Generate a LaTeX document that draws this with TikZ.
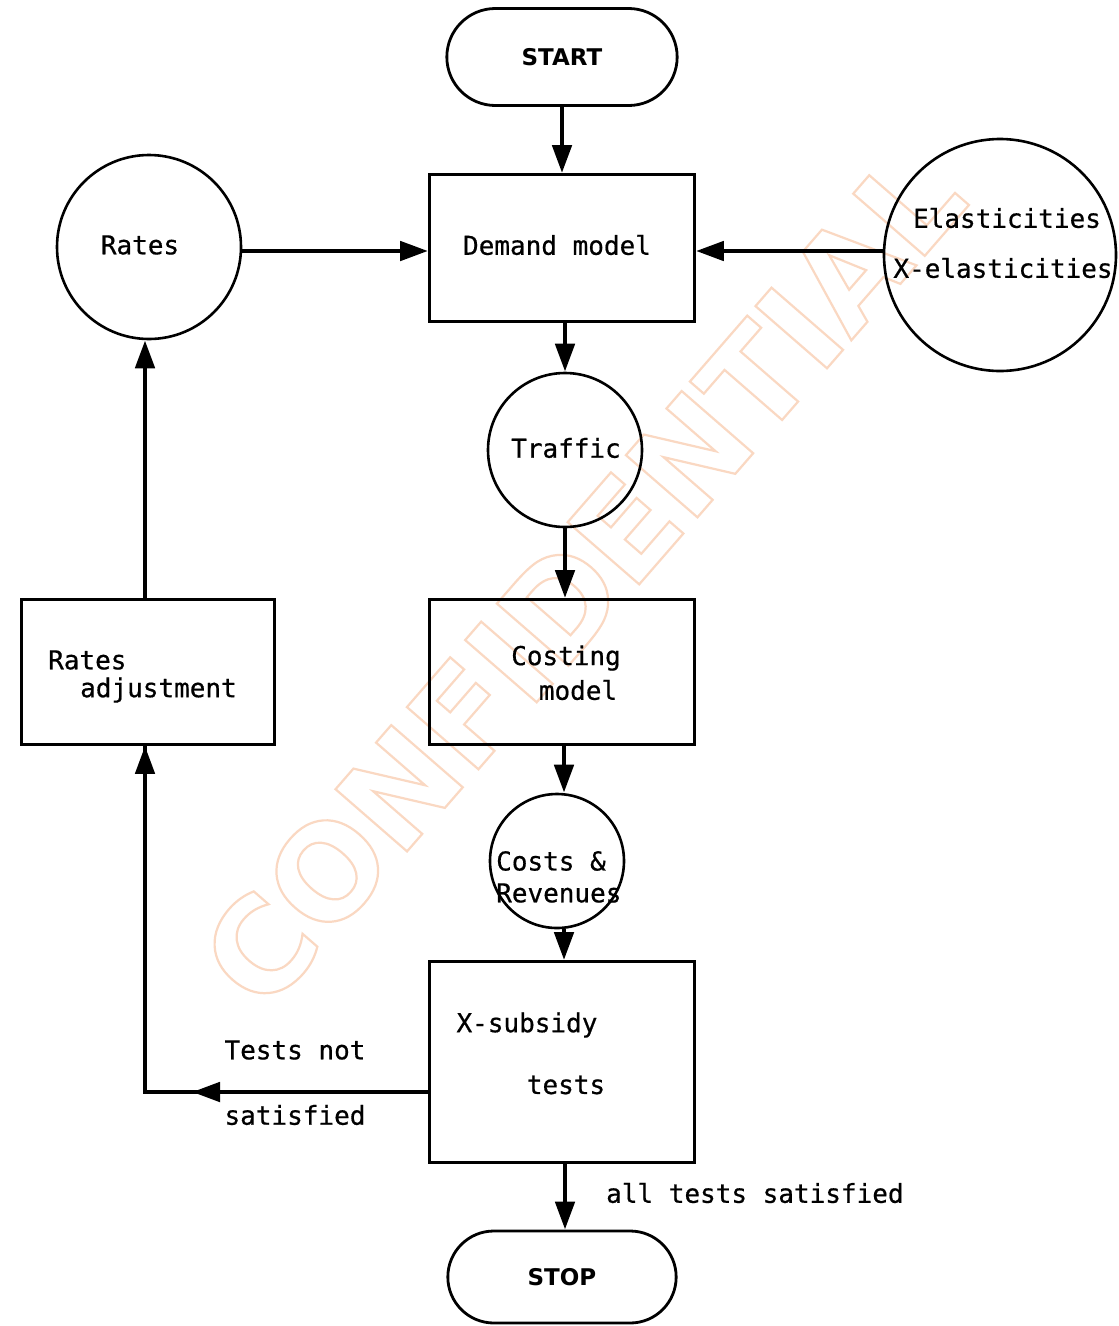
\documentclass[tikz,border=0pt]{standalone}
\usepackage{fontspec}
\setmonofont[FakeBold=0.6]{DejaVu Sans Mono}
\setsansfont{DejaVu Sans}
\newfontfamily\wmfont{DejaVu Sans}
\usetikzlibrary{arrows.meta,shapes.misc}
\definecolor{wm}{RGB}{250,216,194}
\newcommand{\outlinetext}[1]{\special{pdf:literal direct 1 Tr 2.2 w}#1\special{pdf:literal direct 0 Tr}}
\begin{document}
\begin{tikzpicture}[x=1pt,y=-1pt,
  txt/.style={font=\ttfamily\fontsize{26}{32}\selectfont, inner sep=0pt},
  box/.style={draw, line width=2.8pt, minimum width=265pt, minimum height=147pt, inner sep=0pt},
  circ/.style={draw, circle, line width=2.6pt, inner sep=0pt},
  term/.style={draw, rounded rectangle, line width=2.8pt, minimum width=237pt, minimum height=97pt,
    font=\sffamily\bfseries\fontsize{23}{27}\selectfont},
  flow/.style={line width=4.8pt, -{Triangle[length=28pt,width=19pt]}},
  plain/.style={line width=4.8pt}
]
\useasboundingbox (0,0) rectangle (1119,1326);
\fill[white] (0,0) rectangle (1119,1326);

% watermark
\node[rotate=49, text=wm, font=\wmfont\bfseries\fontsize{130}{130}\selectfont, inner sep=0pt] (wmark) at (582,578) {\outlinetext{CONFIDENTIAL}};

% nodes
\node[term] (start) at (562,57) {START};
\node[box] (demand) at (562,248) {};
\node[txt] (demandT) at (557,245) {Demand model};

\node[circ, minimum size=184pt] (rates) at (149,247) {};
\node[txt] (ratesT) at (140,245) {Rates};

\node[circ, minimum size=232pt] (elas) at (1000,255) {};
\node[txt] (elasT1) at (1007,218) {Elasticities};
\node[txt] (elasT2) at (1003,268) {X-elasticities};

\node[circ, minimum size=154pt] (traffic) at (565,450) {};
\node[txt] (trafficT) at (566,448) {Traffic};

\node[box, minimum height=145pt] (costing) at (562,672) {};
\node[txt] (costingT1) at (566,658) {Costing};
\node[txt] (costingT2) at (578,690) {model};

\node[box, minimum width=253pt, minimum height=145pt] (radj) at (148,672) {};
\node[txt, anchor=west] (radjT1) at (48,660) {Rates};
\node[txt, anchor=west] (radjT2) at (80,690) {adjustment};

\node[circ, minimum size=134pt] (costs) at (557,861) {};
\node[txt, anchor=west] (costsT1) at (496,861) {Costs \&};
\node[txt, anchor=west] (costsT2) at (496,893) {Revenues};

\node[box, minimum height=201pt] (xsub) at (562,1062) {};
\node[txt] (xsubT1) at (527,1025) {X-subsidy};
\node[txt] (xsubT2) at (566,1085) {tests};

\node[term, minimum width=235pt, minimum height=92pt] (stop) at (562,1277) {STOP};

\node[txt] (notT1) at (295,1050) {Tests not};
\node[txt] (notT2) at (295,1115) {satisfied};
\node[txt, anchor=west] (allT) at (606,1193) {all tests satisfied};

% connectors
\draw[flow] (start.south) -- (demand.north);
\draw[flow] (rates.east |- 0,251) -- (demand.west |- 0,251);
\draw[flow] (elas.west |- 0,251) -- (demand.east |- 0,251);
\draw[flow] (demand.south -| 565,0) -- (traffic.north);
\draw[flow] (traffic.south) -- (costing.north -| 565,0);
\draw[flow] (costing.south -| 564,0) -- (costs.north -| 564,0);
\draw[flow] (costs.south -| 564,0) -- (xsub.north -| 564,0);
\draw[flow] (xsub.south -| 565,0) -- (stop.north -| 565,0);
\draw[flow] (radj.north -| 145,0) -- (rates.south -| 145,0);
\coordinate (corner) at (145,1092);
\draw[plain, line join=miter] (xsub.west |- corner) -- (corner) -- (radj.south -| corner);
\draw[flow] (corner |- 0,780) -- (radj.south -| corner);
\draw[flow] (xsub.west |- corner) -- (192,1092);
\end{tikzpicture}
\end{document}
